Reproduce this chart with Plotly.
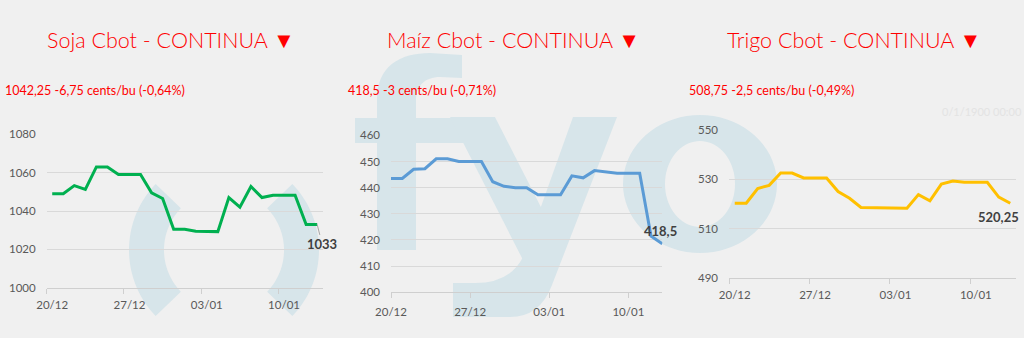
import numpy as np
import pandas as pd
import plotly.graph_objects as go

# ---------------- data ----------------
dates = ["2021-12-20", "2021-12-21", "2021-12-22", "2021-12-23", "2021-12-24",
         "2021-12-25", "2021-12-26", "2021-12-27", "2021-12-28", "2021-12-29",
         "2021-12-30", "2021-12-31", "2022-01-01", "2022-01-02", "2022-01-03",
         "2022-01-04", "2022-01-05", "2022-01-06", "2022-01-07", "2022-01-08",
         "2022-01-09", "2022-01-10", "2022-01-11", "2022-01-12", "2022-01-13"]

soja = [1049, 1049, 1053.25, 1051.25, 1063, 1063, 1059, 1059, 1059, 1049.5,
        1046.5, 1030.5, 1030.5, 1029.5, 1029.25, 1029.25, 1047, 1042, 1052.75,
        1047, 1048.25, 1048.25, 1048.25, 1033, 1033]

maiz = [443.5, 443.5, 447, 447.25, 451, 451, 450, 450, 450, 442.25,
        440.5, 440, 440, 437.25, 437.25, 437.25, 444.5, 443.75, 446.5, 446,
        445.5, 445.5, 445.5, 421.5, 418.5]

trigo = [520.25, 520.25, 526.25, 527.5, 532.5, 532.5, 530.5, 530.5, 530.5, 525,
         522.25, 518.5, 518.5, 518.25, 518.25, 518.25, 523.75, 521.25, 528, 529.25,
         528.75, 528.75, 528.75, 522.75, 520.25]

tick_dates = ["2021-12-20", "2021-12-27", "2022-01-03", "2022-01-10"]
tick_labels = ["20/12", "27/12", "03/01", "10/01"]

titles = ["Soja Cbot - CONTINUA", "Ma\u00edz Cbot - CONTINUA", "Trigo Cbot - CONTINUA"]
title_mark = "\u25BC"
subtitles = ["1042,25 -6,75 cents/bu (-0,64%)", "418,5 -3 cents/bu (-0,71%)", "508,75 -2,5 cents/bu (-0,49%)"]

soja_yticks = [1000, 1020, 1040, 1060, 1080]
maiz_yticks = [400, 410, 420, 430, 440, 450, 460]
trigo_yticks = [490, 510, 530, 550]

# ---------------- style ----------------
W, H = 1024, 338
BG = "#f0f0f0"
WM = "#d7e5ea"
GRID = "#d9d9d9"
AXL = "#cfcfcf"
TICK = "#595959"
RED = "#ff0000"
FONT = "Lato, 'Open Sans', sans-serif"


def P(x, y):
    return f"{x / W:.5f},{1 - y / H:.5f}"


def fmt(v):
    s = f"{v:.2f}".rstrip("0").rstrip(".")
    return s.replace(".", ",")


dt = pd.to_datetime(dates)
mid = dt + pd.Timedelta(hours=12)
tdt = pd.to_datetime(tick_dates)
tmid = tdt + pd.Timedelta(hours=12)

fig = go.Figure()
fig.add_trace(go.Scatter(x=mid, y=soja, mode="lines", line=dict(color="#00b050", width=3),
                         xaxis="x", yaxis="y", hoverinfo="skip"))
fig.add_trace(go.Scatter(x=dt, y=maiz, mode="lines", line=dict(color="#5b9bd5", width=3),
                         xaxis="x2", yaxis="y2", hoverinfo="skip"))
fig.add_trace(go.Scatter(x=mid, y=trigo, mode="lines", line=dict(color="#ffc000", width=3),
                         xaxis="x3", yaxis="y3", hoverinfo="skip"))


def xdom(a, b):
    return [a / W, b / W]


def ydom(top, bottom):
    return [1 - bottom / H, 1 - top / H]


def xcfg(domain, rng, between, anchor, standoff):
    d = dict(domain=domain, range=rng, type="date", anchor=anchor, automargin=False,
             showgrid=False, zeroline=False, showline=True, linecolor=AXL, linewidth=1,
             tickfont=dict(family=FONT, size=11.5, color=TICK),
             ticktext=tick_labels, tickmode="array", fixedrange=True,
             ticklabelstandoff=standoff)
    if between:
        d.update(tickvals=list(tmid), ticks="",
                 minor=dict(tickmode="array", tickvals=list(tdt), ticks="outside",
                            ticklen=5, tickcolor=AXL, tickwidth=1, showgrid=False))
    else:
        d.update(tickvals=list(tdt), ticks="outside", ticklen=5, tickcolor=AXL, tickwidth=1)
    return d


def ycfg(domain, rng, tv, anchor):
    return dict(domain=domain, range=rng, tickmode="array", tickvals=tv, anchor=anchor,
                automargin=False,
                showgrid=True, gridcolor=GRID, gridwidth=1, zeroline=False, showline=False,
                ticks="", tickfont=dict(family=FONT, size=11.5, color=TICK),
                ticklabelstandoff=10, fixedrange=True)


fig.update_layout(
    template="none",
    width=W, height=H, margin=dict(l=0, r=0, t=0, b=0, autoexpand=False),
    paper_bgcolor=BG, plot_bgcolor="rgba(0,0,0,0)", showlegend=False,
    xaxis=xcfg(xdom(46.7, 322.7), ["2021-12-20", "2022-01-14"], True, "y", 6),
    yaxis=ycfg(ydom(134.3, 287.7), [1000, 1080], soja_yticks, "x"),
    xaxis2=xcfg(xdom(391, 662.3), ["2021-12-20", "2022-01-13"], False, "y2", 4),
    yaxis2=ycfg(ydom(135.3, 292.3), [400, 460], maiz_yticks, "x2"),
    xaxis3=xcfg(xdom(729, 1016), ["2021-12-20", "2022-01-14"], True, "y3", 6),
    yaxis3=ycfg(ydom(130, 277.7), [490, 550], trigo_yticks, "x3"),
)

# ---------------- watermark (fyo logo) ----------------
shapes = []


def add_path(path, rule="nonzero"):
    shapes.append(dict(type="path", path=path, xref="paper", yref="paper",
                       fillcolor=WM, line=dict(width=0), layer="below", fillrule=rule))


def ring_seg(cx, cy, ro, ri, a0, a1, n=40):
    th = np.radians(np.linspace(a0, a1, n))
    outer = [P(cx + ro * np.cos(t), cy - ro * np.sin(t)) for t in th]
    inner = [P(cx + ri * np.cos(t), cy - ri * np.sin(t)) for t in th[::-1]]
    pts = outer + inner
    return "M" + " L".join(pts) + " Z"


def ellipse(cx, cy, rx, ry, n=72):
    th = np.linspace(0, 2 * np.pi, n, endpoint=False)
    pts = [P(cx + rx * np.cos(t), cy - ry * np.sin(t)) for t in th]
    return "M" + " L".join(pts) + " Z"


# parentheses arcs in the soybean panel
add_path(ring_seg(224, 250, 95, 60, 136, 224))
add_path(ring_seg(224, 250, 95, 60, -44, 44))
# f
add_path(f"M{P(377,250)} L{P(377,100)} C{P(377,66)} {P(400,53)} {P(430,53)} "
         f"L{P(462,55)} L{P(462,78)} L{P(440,77)} C{P(425,77)} {P(416,86)} {P(416,100)} "
         f"L{P(416,250)} Z")
add_path(f"M{P(355,118)} L{P(470,118)} L{P(470,143)} L{P(355,143)} Z")
# y
add_path(f"M{P(450,117)} L{P(495,117)} L{P(545,215)} L{P(524,262)} Z")
add_path(f"M{P(573,117)} L{P(617,117)} L{P(552,285)} Q{P(540,317)} {P(510,317)} "
         f"L{P(453,317)} L{P(453,283)} L{P(475,283)} Q{P(510,283)} {P(523,257)} Z")
# o
add_path(ellipse(700, 184, 77, 69) + " " + ellipse(700, 184, 35, 43), rule="evenodd")

fig.update_layout(shapes=shapes)

# ---------------- annotations ----------------
ann = []
title_x = [171, 513, 854]
sub_x = [3, 346, 687]
for t, sx, s, tx in zip(titles, sub_x, subtitles, title_x):
    ann.append(dict(text=f"{t} <span style=\"font-family:'DejaVu Sans';font-size:22px\">{title_mark}</span>",
                    x=tx / W, y=1 - 40 / H, xref="paper", yref="paper",
                    xanchor="center", yanchor="middle", showarrow=False,
                    font=dict(family=FONT, size=21.5, color=RED, weight=300)))
    ann.append(dict(text=s, x=sx / W, y=1 - 91 / H, xref="paper", yref="paper",
                    xanchor="left", yanchor="middle", showarrow=False,
                    font=dict(family=FONT, size=12.5, color=RED)))

lab_font = dict(family=FONT, size=13, color="#404040")
ann.append(dict(text=f"<b>{fmt(soja[-1])}</b>", x=mid[-1], y=soja[-1], xref="x", yref="y",
                showarrow=True, arrowhead=0, arrowwidth=1, arrowcolor="#a6a6a6",
                ax=5, ay=20, font=lab_font))
ann.append(dict(text=f"<b>{fmt(maiz[-1])}</b>", x=dt[-1], y=maiz[-1], xref="x2", yref="y2",
                showarrow=False, xshift=-2, yshift=12.5, font=lab_font))
ann.append(dict(text=f"<b>{fmt(trigo[-1])}</b>", x=mid[-1], y=trigo[-1], xref="x3", yref="y3",
                showarrow=False, xshift=-12, yshift=-14, font=lab_font))
ann.append(dict(text="0/1/1900 00:00", x=1.0, y=1 - 111.5 / H, xref="paper", yref="paper",
                xanchor="right", yanchor="middle", showarrow=False,
                font=dict(family=FONT, size=11, color="#e3e3e3")))

fig.update_layout(annotations=ann)

fig.write_html("out.html", include_plotlyjs=True, config={"displayModeBar": False})
